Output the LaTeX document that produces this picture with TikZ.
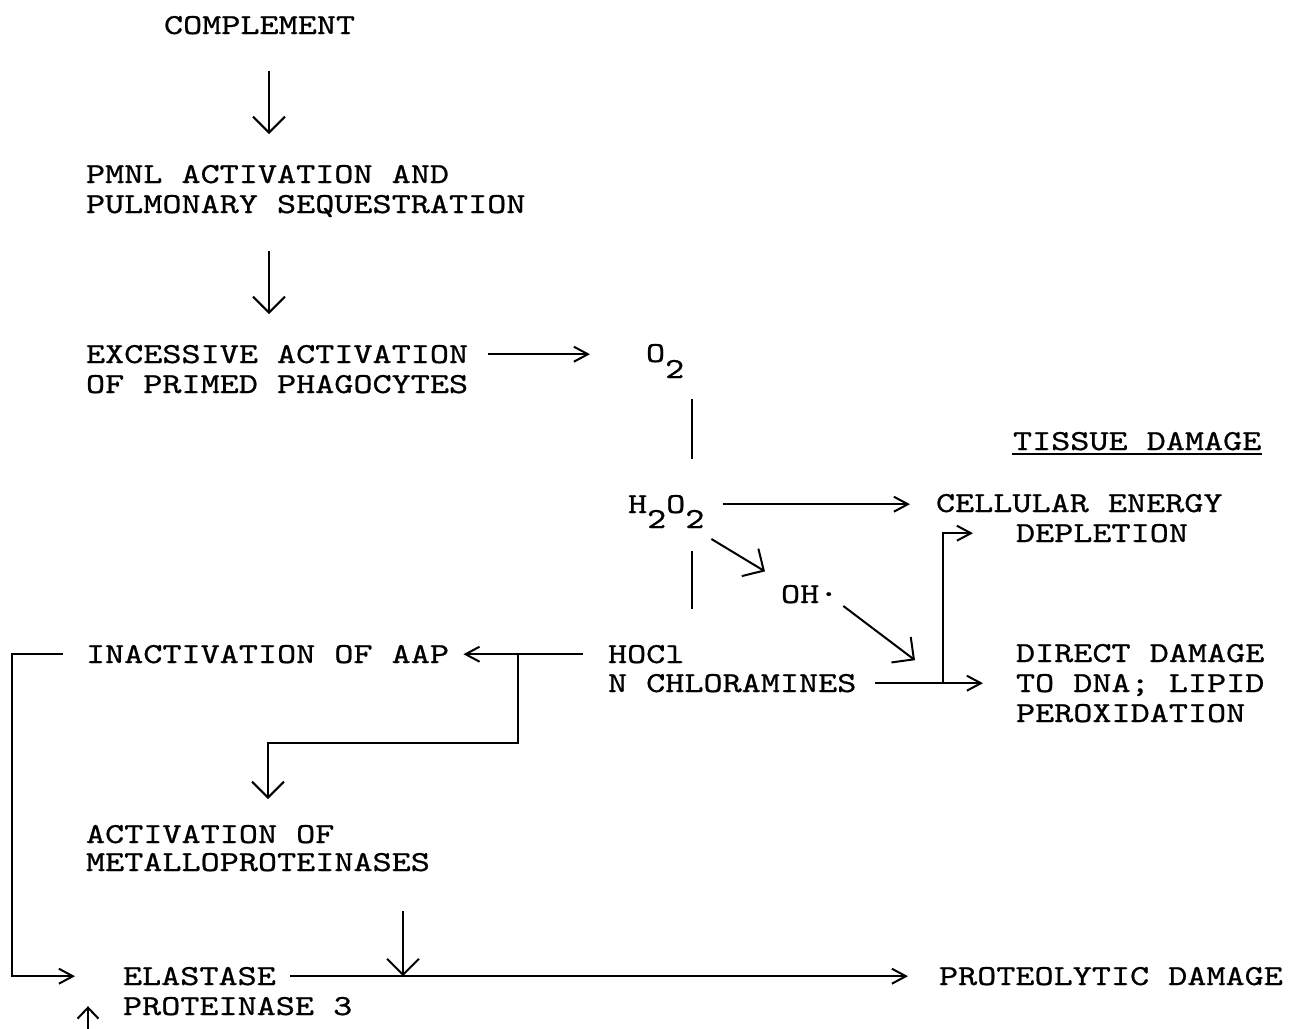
\documentclass[tikz,border=0pt]{standalone}
\usepackage{fontspec}
\newfontfamily\tw{lmmono10-regular.otf}[FakeStretch=1.255,FakeBold=0.8]
\usetikzlibrary{arrows.meta}
\begin{document}
\begin{tikzpicture}[x=0.5pt,y=-0.5pt,
  line width=1pt,
  txt/.style={anchor=base west, inner sep=0pt, text height=8.8pt, text depth=0pt,
    font=\tw\fontsize{14.5pt}{17pt}\selectfont},
  chev/.style={-{Straight Barb[length=7pt,width=7.5pt]}},
  vhead/.style={-{Straight Barb[length=8pt,width=16pt]}},
  smallv/.style={-{Straight Barb[length=5.5pt,width=10.5pt]}}]
\fill[white] (0,0) rectangle (1298,1029);
\useasboundingbox (0,0) rectangle (1298,1029);

% text nodes
\node[txt] (complement) at (163,34) {COMPLEMENT};
\node[txt] (pmnl1) at (85,183) {PMNL ACTIVATION AND};
\node[txt] (pmnl2) at (85,213) {PULMONARY SEQUESTRATION};
\node[txt] (excess1) at (85,363) {EXCESSIVE ACTIVATION};
\node[txt] (excess2) at (85,393) {OF PRIMED PHAGOCYTES};
\node[txt] (o2) at (645,362) {O\raisebox{-8pt}{2}};
\node[txt] (tissue) at (1012,450) {TISSUE DAMAGE};
\node[txt] (h2o2) at (627,513) {H\raisebox{-7.5pt}{2}O\raisebox{-7.5pt}{2}};
\node[txt] (cellular) at (935,512) {CELLULAR ENERGY};
\node[txt] (depletion) at (1015,542) {DEPLETION};
\node[txt] (oh) at (780,603) {OH\char"00B7};
\node[txt] (hocl1) at (607,663) {HOCl};
\node[txt] (hocl2) at (607,692) {N CHLORAMINES};
\node[txt] (direct1) at (1015,662) {DIRECT DAMAGE};
\node[txt] (direct2) at (1015,692) {TO DNA; LIPID};
\node[txt] (direct3) at (1015,722) {PEROXIDATION};
\node[txt] (inact) at (85,663) {INACTIVATION OF AAP};
\node[txt] (actmet1) at (85,843) {ACTIVATION OF};
\node[txt] (actmet2) at (85,871) {METALLOPROTEINASES};
\node[txt] (elastase) at (122,985) {ELASTASE};
\node[txt] (pro2) at (122,1015) {PROTEINASE 3};
\node[txt] (proteo) at (938,985) {PROTEOLYTIC DAMAGE};

% helper coordinates
\coordinate (spine) at (269,0);
\coordinate (vx) at (692,0);
\coordinate (jx) at (943,0);
\coordinate (j2x) at (518,0);
\coordinate (bend2) at (268,743);
\coordinate (hx) at (403,0);
\coordinate (lbx) at (12,0);
\coordinate (upin) at (88,1029);
\coordinate (jn) at (hocl2.east -| jx);
\coordinate (jn2) at (hocl1.west -| j2x);
\coordinate (hit) at (elastase.east -| hx);

% underline
\draw ([yshift=-1.5pt]tissue.south west) -- ([yshift=-1.5pt]tissue.south east);

% connectors
\draw[vhead, shorten <=18pt, shorten >=15.2pt] (complement.south -| spine) -- (pmnl1.north -| spine);
\draw[vhead, shorten <=18.5pt, shorten >=15.2pt] (pmnl2.south -| spine) -- (excess1.north -| spine);
\draw[chev, shorten <=9.5pt, shorten >=27.5pt] (excess1.east) -- (excess1.east -| o2.west);
\draw[shorten <=18pt, shorten >=17.7pt] (o2.south -| vx) -- (h2o2.north -| vx);
\draw[chev, shorten <=8.7pt, shorten >=12.5pt] (h2o2.east) -- (h2o2.east -| cellular.west);
\draw[vhead] ([shift={(6,25)}]h2o2.south east) -- ([shift={(-15,-13)}]oh.north west);
\draw[shorten <=18.5pt, shorten >=17.7pt] (h2o2.south -| vx) -- (hocl1.north -| vx);
\draw[vhead] ([shift={(4,2)}]oh.south east) -- ([shift={(-28,-23)}]jn);
\draw[chev, shorten <=9pt, shorten >=16pt] (hocl2.east) -- (hocl2.east -| direct2.west);
\draw[chev, shorten >=21pt] (jn) |- (depletion.west);
\draw[chev, shorten <=12pt, shorten >=6.7pt] (hocl1.west) -- (inact.east);
\draw[vhead, shorten >=12.7pt] (jn2) |- (bend2) -- (actmet1.north -| bend2);
\draw[vhead, shorten <=19.5pt] (actmet2.south -| hit) -- (hit);
\draw[chev, shorten <=6.5pt, shorten >=15pt] (elastase.east) -- (elastase.east -| proteo.west);
\draw[chev, shorten <=11pt, shorten >=23.5pt] (inact.west) -- (inact.west -| lbx) -- (elastase.west -| lbx) -- (elastase.west);
\draw[smallv] (upin) -- (upin |- pro2.west);
\end{tikzpicture}
\end{document}
